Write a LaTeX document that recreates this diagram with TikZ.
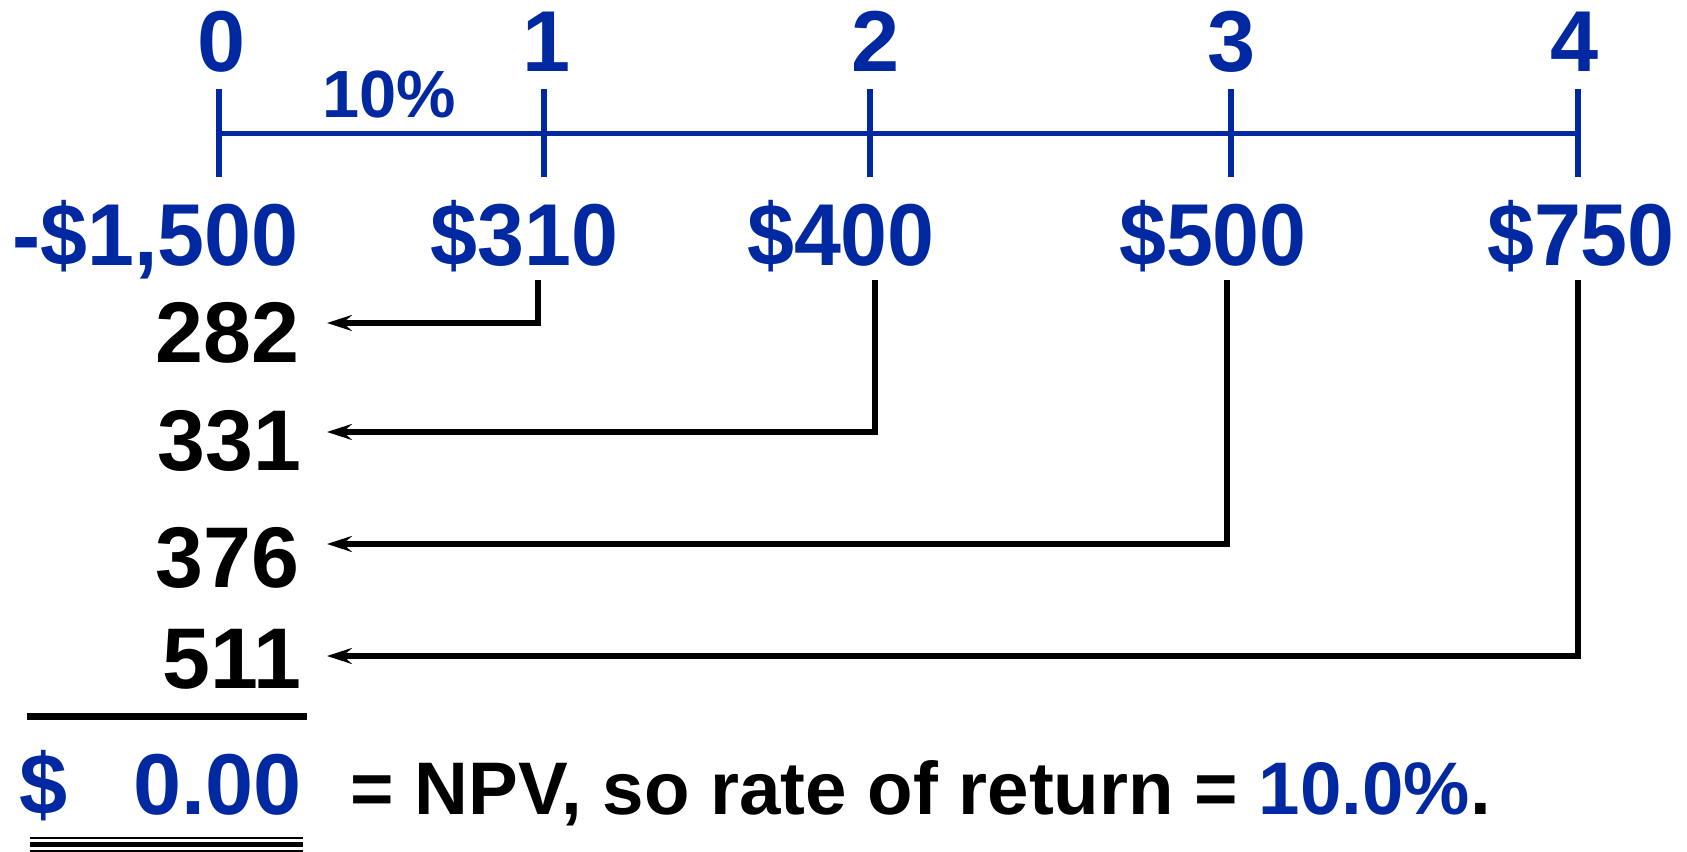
\documentclass[tikz,border=0pt]{standalone}
\usepackage{fontspec}
\setmainfont{Liberation Sans}
\newfontfamily\amtfont{Liberation Sans}[FakeStretch=0.96]
\usetikzlibrary{positioning,arrows.meta}
\definecolor{CFBlue}{RGB}{0,40,160}

\begin{document}
\begin{tikzpicture}[
x=0.1mm,y=-0.1mm,
per/.style={inner sep=0pt,anchor=base,font=\fontsize{24.6}{26}\selectfont\bfseries,text=CFBlue},
amt/.style={inner sep=0pt,anchor=base,font=\amtfont\fontsize{25}{27}\selectfont\bfseries,text=CFBlue},
pv/.style={inner sep=0pt,anchor=east,font=\fontsize{24.5}{26}\selectfont\bfseries},
axis/.style={draw=CFBlue,line width=1.45pt},
arrow/.style={-{Stealth[length=2.5mm,width=1.6mm,inset=0.9mm]},line width=1.5pt}
]
\useasboundingbox (0,0) rectangle (1687,852);
% time line
\draw[axis] (219,133.5) -- (1578,133.5);
\foreach \x/\lx/\n in {219/222/0,544/547/1,870/876/2,1231/1232/3,1578/1575/4}{
  \draw[axis] (\x,89) -- (\x,177);
  \node[per] (t\n) at (\lx,72) {\n};
}
\node[per,font=\fontsize{19}{21}\selectfont\bfseries] (rate) at (389,118) {10\%};
% cash flows
\node[amt] (a0) at (155.5,266) {-\$1,500};
\node[amt] (a1) at (524.5,266) {\$310};
\node[amt] (a2) at (841,266) {\$400};
\node[amt] (a3) at (1213,266) {\$500};
\node[amt] (a4) at (1581,266) {\$750};
% present values
\node[pv] (pv1) at (300,332.5) {282};
\node[pv] (pv2) at (302,441) {331};
\node[pv] (pv3) at (300,557.5) {376};
\node[pv] (pv4) at (302,659) {511};
\foreach \i/\x/\y in {1/538/323,2/875/432,3/1227/544,4/1578/656}{
  \coordinate (s\i) at (\x,280);
  \coordinate (e\i) at (327,\y);
  \draw[arrow] (s\i) |- (e\i);
}
\draw[line width=2.1pt] (27,716.5) -- (307,716.5);
% result
\node[per,anchor=base west] (dol) at (19,815) {\$};
\node[per,anchor=base east] (npv) at (302,815) {0.00};
\draw[line width=0.75pt] (30,838) -- (303,838);
\draw[line width=1.6pt] (30,844.5) -- (303,844.5);
\draw[line width=0.75pt] (30,851) -- (303,851);
\node[inner sep=0pt,anchor=base west,font=\fontsize{21.2}{23}\selectfont\bfseries] (res) at (350,815) {= NPV, so rate of return = \textcolor{CFBlue}{10.0\%}.};
\end{tikzpicture}
\end{document}
